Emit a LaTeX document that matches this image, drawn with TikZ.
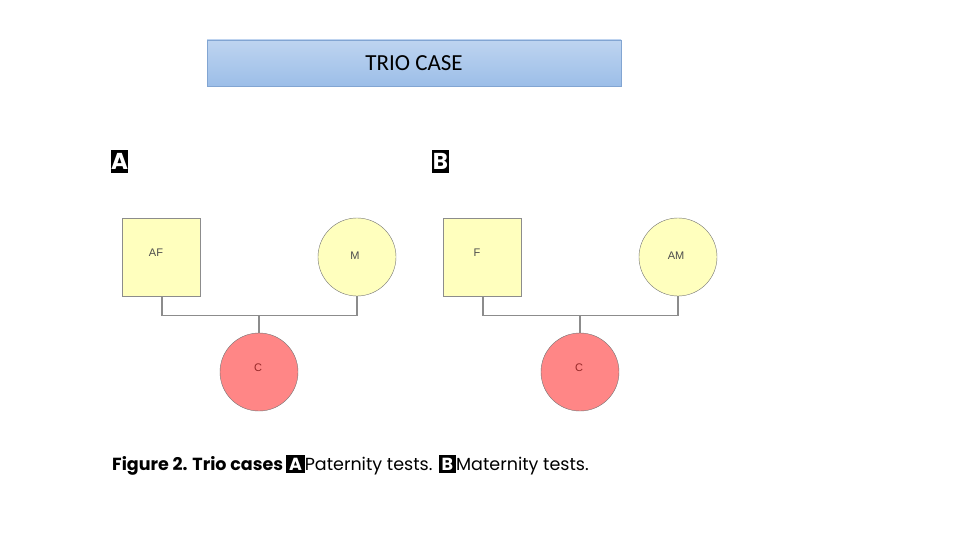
\documentclass[tikz,border=0pt]{standalone}
\usepackage{fontspec}
\setmainfont{Liberation Sans}
\newfontfamily\calib{Carlito}
\newfontfamily\popp{Poppins}
\begin{document}
\begin{tikzpicture}[x=1pt,y=-1pt,
 sq/.style={draw=black!45,fill={rgb,255:red,255;green,255;blue,190},minimum size=78pt,inner sep=0pt},
 yc/.style={circle,draw=black!55,fill={rgb,255:red,255;green,255;blue,190},minimum size=78pt,inner sep=0pt},
 rc/.style={circle,draw=black!55,fill={rgb,255:red,255;green,134;blue,134},minimum size=78pt,inner sep=0pt},
 lbl/.style={font=\fontsize{11}{12}\selectfont,text=black!70},
 ln/.style={draw=black!45,line width=1.2pt},
 tag/.style={fill=black,text=white,font=\popp\bfseries\fontsize{23}{24}\selectfont,inner sep=0pt,minimum width=17pt,minimum height=23pt}]
\useasboundingbox (0,0) rectangle (960,540);
\node[draw={rgb,255:red,130;green,165;blue,210},top color={rgb,255:red,190;green,212;blue,240},bottom color={rgb,255:red,156;green,190;blue,232},minimum width=414pt,minimum height=46pt,inner sep=0pt,font=\calib\fontsize{23}{24}\selectfont] (title) at (414,63) {TRIO CASE};
\foreach \o/\P/\F/\M in {0/A/AF/M,321/B/F/AM}{
 \node[tag] (tag\P) at (119.5+\o,161.5) {\P};
 \node[sq] (f\P) at (161+\o,257.5) {};
 \node[lbl] (ft\P) at (156+\o,253) {\F};
 \node[yc] (m\P) at (357+\o,257) {};
 \node[lbl] (mt\P) at (355+\o,256) {\M};
 \node[rc] (c\P) at (259+\o,372) {};
 \node[lbl,text={rgb,255:red,150;green,40;blue,40}] (ct\P) at (258+\o,368) {C};
 \coordinate (j\P) at (259+\o,316);
 \draw[ln] ([xshift=1pt]f\P.south) -- ++(0,19) -| (m\P.south);
 \draw[ln] (j\P) -- (c\P.north);
}
\node[anchor=west,inner sep=0pt,font=\popp\fontsize{17.5}{19}\selectfont] (cap) at (112,465)
 {\textbf{Figure 2. Trio cases}\,\colorbox{black}{\textcolor{white}{\bfseries A}}\hspace{-3pt}\,Paternity tests. \colorbox{black}{\textcolor{white}{\bfseries B}}\hspace{-3pt}\,Maternity tests.};
\end{tikzpicture}
\end{document}
